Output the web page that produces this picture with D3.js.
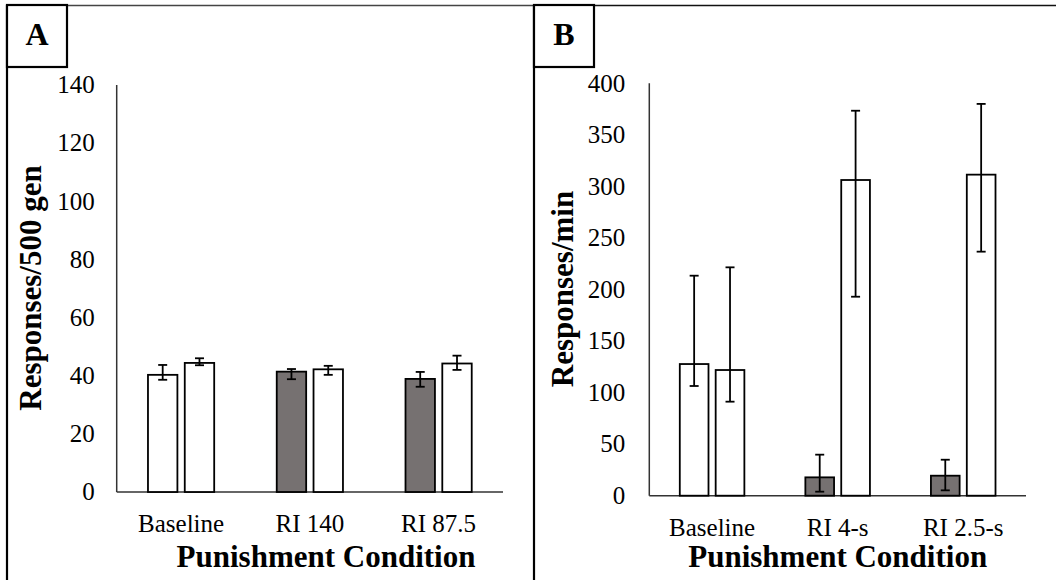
<!DOCTYPE html>
<html>
<head>
<meta charset="utf-8">
<script src="https://cdn.jsdelivr.net/npm/d3@7"></script>
<style>
  html, body { margin: 0; padding: 0; background: #fff; }
  svg { display: block; font-family: "Liberation Serif", "Times New Roman", serif; }
</style>
</head>
<body>
<svg id="chart" width="1056" height="580"></svg>
<script>
// Panel A: responses per 500 generations
const catsA = ["Baseline", "RI 140", "RI 87.5"]
const firstA = [40.3, 41.4, 38.9]
const firstAHi = [43.7, 42.3, 41.3]
const firstALo = [38.6, 38.8, 36.2]
const secondA = [44.4, 42.2, 44.2]
const secondAHi = [46.0, 43.4, 46.9]
const secondALo = [43.6, 40.3, 42.0]
const ticksA = [0, 20, 40, 60, 80, 100, 120, 140]

// Panel B: responses per minute
const catsB = ["Baseline", "RI 4-s", "RI 2.5-s"]
const firstB = [127.7, 17.8, 19.4]
const firstBHi = [213.4, 39.8, 34.9]
const firstBLo = [106.4, 3.9, 5.2]
const secondB = [121.9, 306.2, 311.4]
const secondBHi = [221.5, 373.4, 380.0]
const secondBLo = [91.2, 193.0, 236.7]
const ticksB = [0, 50, 100, 150, 200, 250, 300, 350, 400]

// first bar is shaded only under punishment
const firstShaded = [false, true, true]

const GRAY = "#767171"
const svg = d3.select("#chart")

function panel(opts) {
  const g = svg.append("g")
  const x = d3.scaleBand().domain(opts.cats).range([opts.x0, opts.x1])
  const sub = d3.scaleBand().domain([0, 1]).range([0, x.bandwidth()])
    .paddingInner(0.2).paddingOuter(0.85)
  const y = d3.scaleLinear().domain([0, d3.max(opts.ticks)]).range([opts.y0, opts.y1])

  // axis lines
  g.append("line")
    .attr("x1", opts.x0).attr("x2", opts.x0)
    .attr("y1", y(0)).attr("y2", y(d3.max(opts.ticks)))
    .attr("stroke", "#333").attr("stroke-width", 1.5)
  g.append("line")
    .attr("x1", opts.x0).attr("x2", opts.x1)
    .attr("y1", y(0)).attr("y2", y(0))
    .attr("stroke", "#333").attr("stroke-width", 1.5)

  // tick labels
  g.selectAll(".ytick")
    .data(opts.ticks)
    .join("text")
    .attr("x", opts.x0 - opts.tickGap)
    .attr("y", d => y(d))
    .attr("dy", "0.33em")
    .attr("text-anchor", "end")
    .style("font-size", "25px")
    .text(d => d)

  g.selectAll(".xtick")
    .data(opts.cats)
    .join("text")
    .attr("x", d => x(d) + x.bandwidth() / 2)
    .attr("y", opts.xTickY)
    .attr("text-anchor", "middle")
    .style("font-size", "25px")
    .text(d => d)

  const rows = opts.cats.map((c, i) => [
    { cat: c, s: 0, v: opts.first[i], hi: opts.firstHi[i], lo: opts.firstLo[i], fill: firstShaded[i] ? GRAY : "#fff" },
    { cat: c, s: 1, v: opts.second[i], hi: opts.secondHi[i], lo: opts.secondLo[i], fill: "#fff" }
  ]).flat()

  g.selectAll(".bar")
    .data(rows)
    .join("rect")
    .attr("x", d => x(d.cat) + sub(d.s))
    .attr("width", sub.bandwidth())
    .attr("y", d => y(d.v))
    .attr("height", d => y(0) - y(d.v))
    .attr("fill", d => d.fill)
    .attr("stroke", "#000")
    .attr("stroke-width", 1.8)

  const cx = d => x(d.cat) + sub(d.s) + sub.bandwidth() / 2
  const err = g.append("g").attr("stroke", "#000").attr("stroke-width", 1.8)
  err.selectAll(".stem").data(rows).join("line")
    .attr("x1", cx).attr("x2", cx)
    .attr("y1", d => y(d.hi)).attr("y2", d => y(d.lo))
  err.selectAll(".capHi").data(rows).join("line")
    .attr("x1", d => cx(d) - 4.5).attr("x2", d => cx(d) + 4.5)
    .attr("y1", d => y(d.hi)).attr("y2", d => y(d.hi))
  err.selectAll(".capLo").data(rows).join("line")
    .attr("x1", d => cx(d) - 4.5).attr("x2", d => cx(d) + 4.5)
    .attr("y1", d => y(d.lo)).attr("y2", d => y(d.lo))

  // axis titles
  g.append("text")
    .attr("x", opts.xTitleX)
    .attr("y", opts.xTitleY)
    .attr("text-anchor", "middle")
    .style("font-size", "31px").style("font-weight", "bold")
    .text("Punishment Condition")
  g.append("text")
    .attr("transform", `translate(${opts.yTitleX},${opts.yTitleY}) rotate(-90)`)
    .attr("text-anchor", "middle")
    .style("font-size", "31px").style("font-weight", "bold")
    .text(opts.yTitle)

  // panel frame and letter box
  g.append("line")
    .attr("x1", opts.frameX).attr("x2", opts.frameX)
    .attr("y1", 5).attr("y2", 580)
    .attr("stroke", "#000").attr("stroke-width", 2.2)
  g.append("line")
    .attr("x1", opts.frameX).attr("x2", opts.frameRight)
    .attr("y1", 5.5).attr("y2", 5.5)
    .attr("stroke", opts.topColor).attr("stroke-width", 1.5)
  g.append("rect")
    .attr("x", opts.frameX).attr("y", 5)
    .attr("width", 60).attr("height", 62)
    .attr("fill", "#fff").attr("stroke", "#000").attr("stroke-width", 2.2)
  g.append("text")
    .attr("x", opts.frameX + 30).attr("y", 45)
    .attr("text-anchor", "middle")
    .style("font-size", "32px").style("font-weight", "bold")
    .text(opts.letter)
}

panel({
  cats: catsA, ticks: ticksA,
  first: firstA, firstHi: firstAHi, firstLo: firstALo,
  second: secondA, secondHi: secondAHi, secondLo: secondALo,
  x0: 116.7, x1: 503, y0: 492, y1: 85, tickGap: 22,
  xTickY: 532, xTitleX: 326, xTitleY: 567,
  yTitle: "Responses/500 gen", yTitleX: 41, yTitleY: 288,
  frameX: 7, frameRight: 534, topColor: "#444", letter: "A"
})

panel({
  cats: catsB, ticks: ticksB,
  first: firstB, firstHi: firstBHi, firstLo: firstBLo,
  second: secondB, secondHi: secondBHi, secondLo: secondBLo,
  x0: 649.3, x1: 1026, y0: 495.7, y1: 83.3, tickGap: 24,
  xTickY: 536, xTitleX: 837.7, xTitleY: 567,
  yTitle: "Responses/min", yTitleX: 573, yTitleY: 289,
  frameX: 534, frameRight: 1056, topColor: "#111", letter: "B"
})
</script>
</body>
</html>
